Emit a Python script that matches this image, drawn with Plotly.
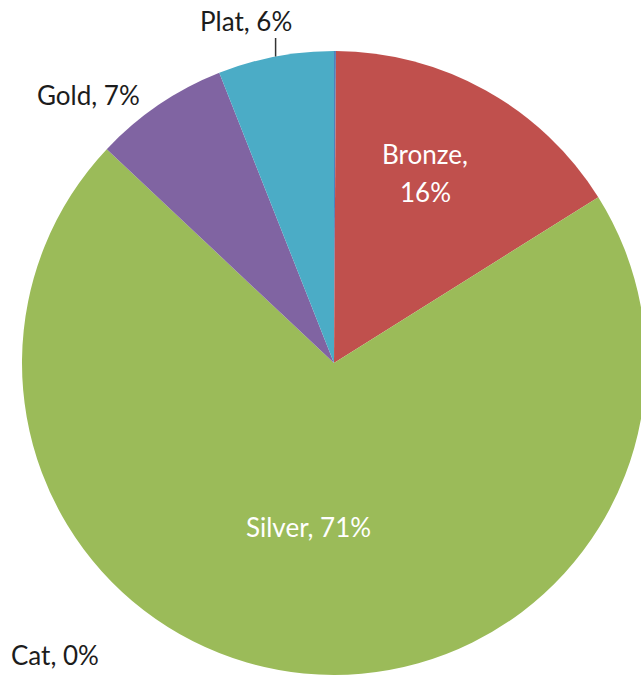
import math
import plotly.graph_objects as go

# ---- data ----
labels = ["Cat", "Bronze", "Silver", "Gold", "Plat"]
values = [0.1, 16, 71, 7, 6]
pct_text = ["0%", "16%", "71%", "7%", "6%"]
colors = ["#4F81BD", "#C0504D", "#9BBB59", "#8064A2", "#4BACC6"]

# ---- layout geometry (pixels) ----
W, H = 647, 677
L, T = 22, 51
R = 312
CX, CY = L + R, T + R


def px(x):
    return (x - L) / (2 * R)


def py(y):
    return 1 - (y - T) / (2 * R)


fig = go.Figure(
    go.Pie(
        labels=labels,
        values=values,
        sort=False,
        direction="clockwise",
        rotation=0,
        marker=dict(colors=colors, line=dict(width=0)),
        textinfo="none",
        hoverinfo="label+percent",
        showlegend=False,
    )
)

font_family = "Lato, 'Open Sans', sans-serif"
dark = "#1c1c1c"
# label placements: list of (center x px, center y px) per text line, colour
placements = {
    "Cat": ([(55, 655)], dark),
    "Bronze": ([(425, 154), (425, 192)], "white"),
    "Silver": ([(308, 527)], "white"),
    "Gold": ([(88, 95)], dark),
    "Plat": ([(246, 21)], dark),
}
annotations = []
for lab, pct in zip(labels, pct_text):
    pts, c = placements[lab]
    lines = [f"{lab},", pct] if len(pts) == 2 else [f"{lab}, {pct}"]
    for (x, y), txt in zip(pts, lines):
        annotations.append(
            dict(
                x=px(x), y=py(y), xref="paper", yref="paper",
                text=txt, showarrow=False, xanchor="center", yanchor="middle",
                font=dict(family=font_family, size=26, color=c),
            )
        )

# leader line for Plat computed from the slice mid-angle
total = sum(values)
i = labels.index("Plat")
mid = (sum(values[:i]) + values[i] / 2) / total * 2 * math.pi
ex = CX + R * math.sin(mid)
ey = CY - R * math.cos(mid)
shapes = [
    dict(type="line", xref="paper", yref="paper",
         x0=px(ex), x1=px(ex), y0=py(ey), y1=py(38),
         line=dict(color="#333333", width=1.5))
]

fig.update_layout(
    width=W, height=H,
    margin=dict(l=L, r=W - L - 2 * R, t=T, b=H - T - 2 * R, pad=0),
    paper_bgcolor="white", plot_bgcolor="white",
    annotations=annotations, shapes=shapes,
)

fig.write_html(
    "out.html",
    post_script="document.documentElement.style.overflow='hidden';document.body.style.overflow='hidden';document.body.style.margin='0';",
)
